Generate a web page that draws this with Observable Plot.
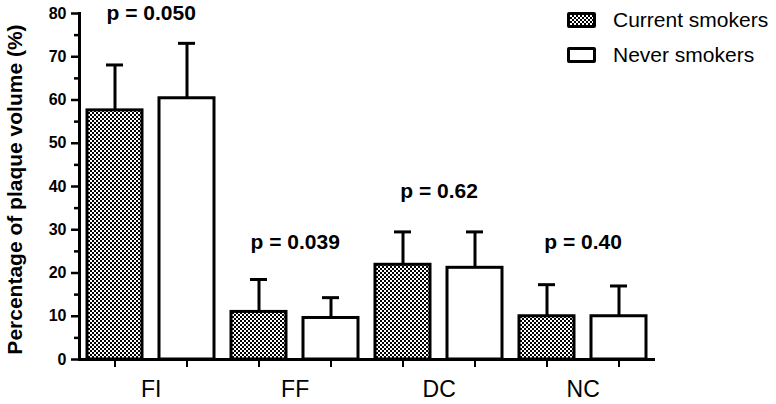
<!DOCTYPE html>
<html>
<head>
<meta charset="utf-8">
<script src="https://cdn.jsdelivr.net/npm/d3@7"></script>
<script src="https://cdn.jsdelivr.net/npm/@observablehq/plot@0.6"></script>
<style>
  html, body { margin: 0; padding: 0; background: white; }
  #wrap { position: relative; width: 776px; height: 404px; font-family: "Liberation Sans", Arial, sans-serif; }
  #legend { position: absolute; left: 567px; top: 8px; }
  .item { display: flex; align-items: center; height: 24px; margin-bottom: 11px; }
  .sw { box-sizing: border-box; width: 29px; height: 16px; border: 3px solid #000; border-radius: 2px; margin-right: 17px; background: #fff; }
  .sw.check { background: repeating-conic-gradient(#000 0 25%, #fff 0 50%) 0 0 / 4px 4px; }
  .lab { font-size: 21px; color: #000; }
</style>
</head>
<body>
<div id="wrap">
  <div id="chart"></div>
  <div id="legend"></div>
</div>
<script>
const categories = ["FI", "FF", "DC", "NC"];
const series = ["Current smokers", "Never smokers"];
const currentMean = [57.6, 11.0, 21.9, 10.0];
const currentSD = [10.5, 7.5, 7.6, 7.3];
const neverMean = [60.4, 9.6, 21.2, 10.0];
const neverSD = [12.7, 4.7, 8.3, 7.0];
const pValues = ["p = 0.050", "p = 0.039", "p = 0.62", "p = 0.40"];
const pLabelY = [80, 27, 39, 27];
const yTicks = [0, 10, 20, 30, 40, 50, 60, 70, 80];
const yMinorTicks = [5, 15, 25, 35, 45, 55, 65, 75];
const yLabel = "Percentage of plaque volume (%)";

const rows = [];
categories.forEach((c, i) => {
  rows.push({cat: c, series: series[0], key: c + "|" + series[0], mean: currentMean[i], upper: currentMean[i] + currentSD[i]});
  rows.push({cat: c, series: series[1], key: c + "|" + series[1], mean: neverMean[i], upper: neverMean[i] + neverSD[i]});
});
const keys = rows.map(d => d.key);

const W = 776, H = 404, mL = 79, mR = 121, mT = 13, mB = 45;
const pIn = 0.235, pOut = 0.1;
const step = (W - mL - mR) / (keys.length - pIn + 2 * pOut);
const font = "Liberation Sans, Arial, sans-serif";

const plot = Plot.plot({
  width: W, height: H,
  marginLeft: mL, marginRight: mR, marginTop: mT, marginBottom: mB,
  style: {fontFamily: font, background: "white", color: "black", overflow: "visible"},
  x: {domain: keys, paddingInner: pIn, paddingOuter: pOut, axis: null},
  y: {domain: [0, 80], axis: null},
  marks: [
    Plot.ruleX(rows, {x: "key", y1: "mean", y2: "upper", stroke: "black", strokeWidth: 3}),
    Plot.tickY(rows, {x: "key", y: "upper", stroke: "black", strokeWidth: 3, insetLeft: 19, insetRight: 19}),
    Plot.barY(rows.filter(d => d.series === series[0]), {x: "key", y: "mean", fill: "url(#checker)", stroke: "black", strokeWidth: 3}),
    Plot.barY(rows.filter(d => d.series === series[1]), {x: "key", y: "mean", fill: "white", stroke: "black", strokeWidth: 3}),
    Plot.axisY({ticks: yTicks, tickSize: 8, strokeWidth: 2.5, tickFormat: () => "", label: null}),
    Plot.axisY({ticks: yMinorTicks, tickSize: 5, strokeWidth: 2.5, tickFormat: () => "", label: null}),
    Plot.text(yTicks, {y: d => d, text: d => String(d), frameAnchor: "left", textAnchor: "end", lineAnchor: "middle", dx: -13, fontSize: 16, fontWeight: "bold", fill: "black"}),
    Plot.axisX({tickSize: 8, strokeWidth: 2, tickFormat: () => "", label: null}),
    Plot.ruleY([0], {stroke: "black", strokeWidth: 3}),
    Plot.frame({anchor: "left", stroke: "black", strokeWidth: 3}),
    Plot.text(categories, {x: d => d + "|" + series[0], text: d => d, frameAnchor: "bottom", lineAnchor: "top", dx: step / 2, dy: 21, fontSize: 23, fill: "black"}),
    Plot.text(categories, {x: d => d + "|" + series[0], y: (d, i) => pLabelY[i], text: (d, i) => pValues[i], dx: step / 2, lineAnchor: "middle", fontSize: 21, fontWeight: "bold", fill: "black"}),
    Plot.text([yLabel], {frameAnchor: "left", textAnchor: "middle", lineAnchor: "middle", text: d => d, rotate: -90, dx: -64, dy: 3, fontSize: 21, fontWeight: "bold", fill: "black"})
  ]
});

const defs = d3.select(plot).insert("defs", ":first-child");
const pat = defs.append("pattern").attr("id", "checker").attr("patternUnits", "userSpaceOnUse").attr("width", 4).attr("height", 4);
pat.append("rect").attr("width", 4).attr("height", 4).attr("fill", "white");
pat.append("rect").attr("x", 0).attr("y", 0).attr("width", 2).attr("height", 2).attr("fill", "black");
pat.append("rect").attr("x", 2).attr("y", 2).attr("width", 2).attr("height", 2).attr("fill", "black");

document.getElementById("chart").appendChild(plot);

const legend = d3.select("#legend");
series.forEach((s, i) => {
  const it = legend.append("div").attr("class", "item");
  it.append("div").attr("class", i === 0 ? "sw check" : "sw");
  it.append("span").attr("class", "lab").text(s);
});
</script>
</body>
</html>
